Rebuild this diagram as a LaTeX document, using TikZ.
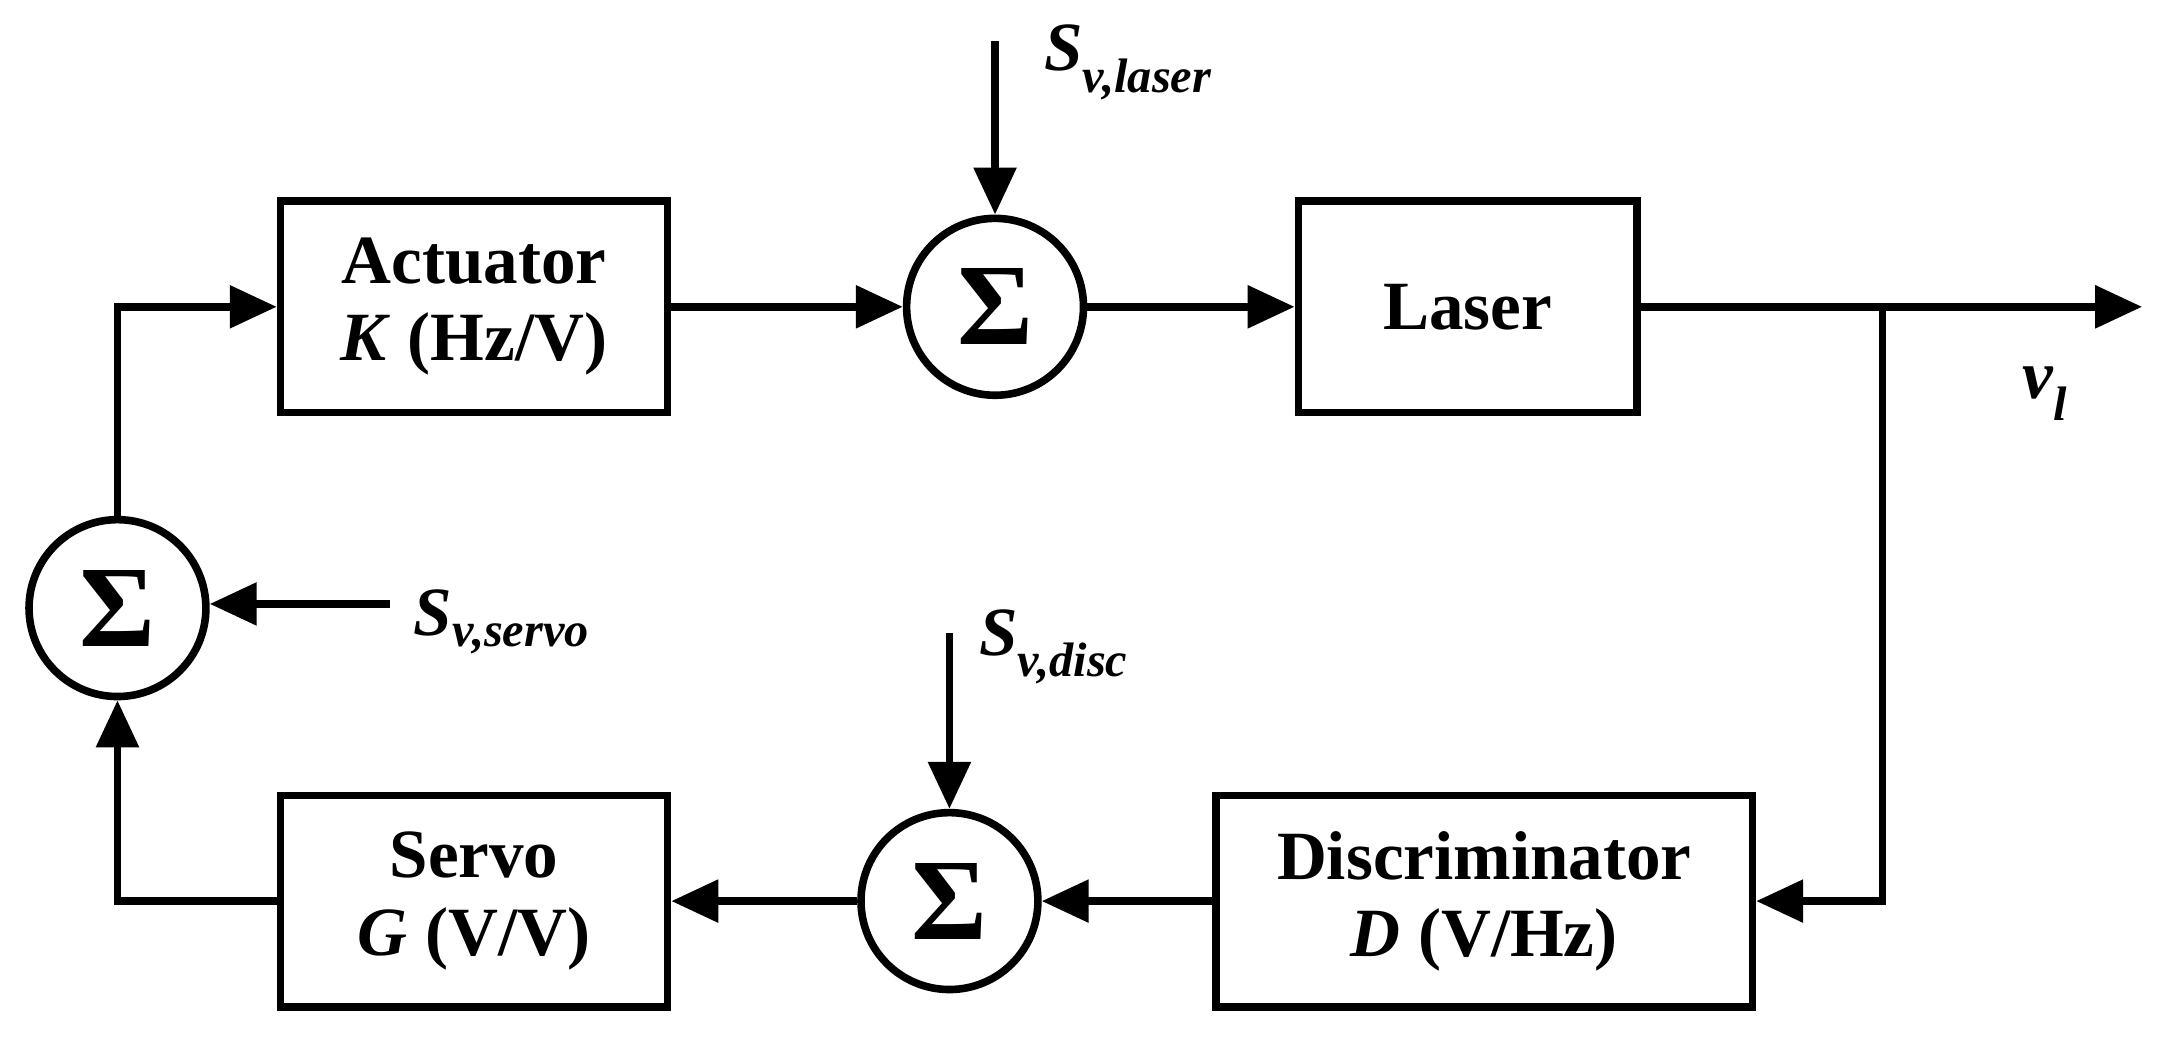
\documentclass[tikz,border=0pt]{standalone}
\usepackage{fontspec}
\setmainfont{Liberation Serif}
\usetikzlibrary{arrows.meta}
\begin{document}
\begin{tikzpicture}[x=1pt,y=-1pt,
  every node/.style={font=\fontsize{50}{56}\selectfont\bfseries},
  blk/.style={draw,line width=5.5pt,minimum height=153pt,align=center,inner sep=0pt},
  sum/.style={draw,circle,line width=5.5pt,minimum size=128pt,inner sep=0pt,font=\fontsize{84}{84}\selectfont\bfseries},
  con/.style={line width=5.5pt,-{Triangle[length=34pt,width=30pt]}},
  lab/.style={font=\fontsize{50}{56}\selectfont\bfseries\itshape,anchor=west}]
\useasboundingbox (0,0) rectangle (1568,750);
\node[blk,minimum width=280pt] (act) at (343,222) {Actuator\\ \textit{K} (Hz/V)};
\node[sum] (s1) at (720,222) {Σ};
\node[blk,minimum width=245pt] (las) at (1062,222) {Laser};
\node[blk,minimum width=388pt] (dis) at (1074,652) {Discriminator\\ \textit{D} (V/Hz)};
\node[sum] (s2) at (687,652) {Σ};
\node[blk,minimum width=280pt] (ser) at (343,652) {Servo\\ \textit{G} (V/V)};
\node[sum] (s3) at (85,440) {Σ};
\coordinate (out) at (1550,222);
\coordinate (j) at (1362,222);
\coordinate (i1) at (720,30);
\coordinate (i2) at (687,458);
\coordinate (i3) at (282,437);
\draw[con] (act) -- (s1);
\draw[con] (s1) -- (las);
\draw[con] (las) -- (out);
\draw[con] (j) |- (dis);
\draw[con] (dis) -- (s2);
\draw[con] (s2) -- (ser);
\draw[con] (ser.west) -| (s3.south);
\draw[con] (s3.north) |- (act.west);
\draw[con] (i1) -- (s1);
\draw[con] (i2) -- (s2);
\draw[con] (i3) -- (s3.east |- i3);
\node[lab] (l1) at (752,45) {S\textsubscript{v,laser}};
\node[lab] (l2) at (705,468) {S\textsubscript{v,disc}};
\node[lab] (l3) at (296,450) {S\textsubscript{v,servo}};
\node[lab] (l4) at (1460,285) {v\textsubscript{l}};
\end{tikzpicture}
\end{document}
